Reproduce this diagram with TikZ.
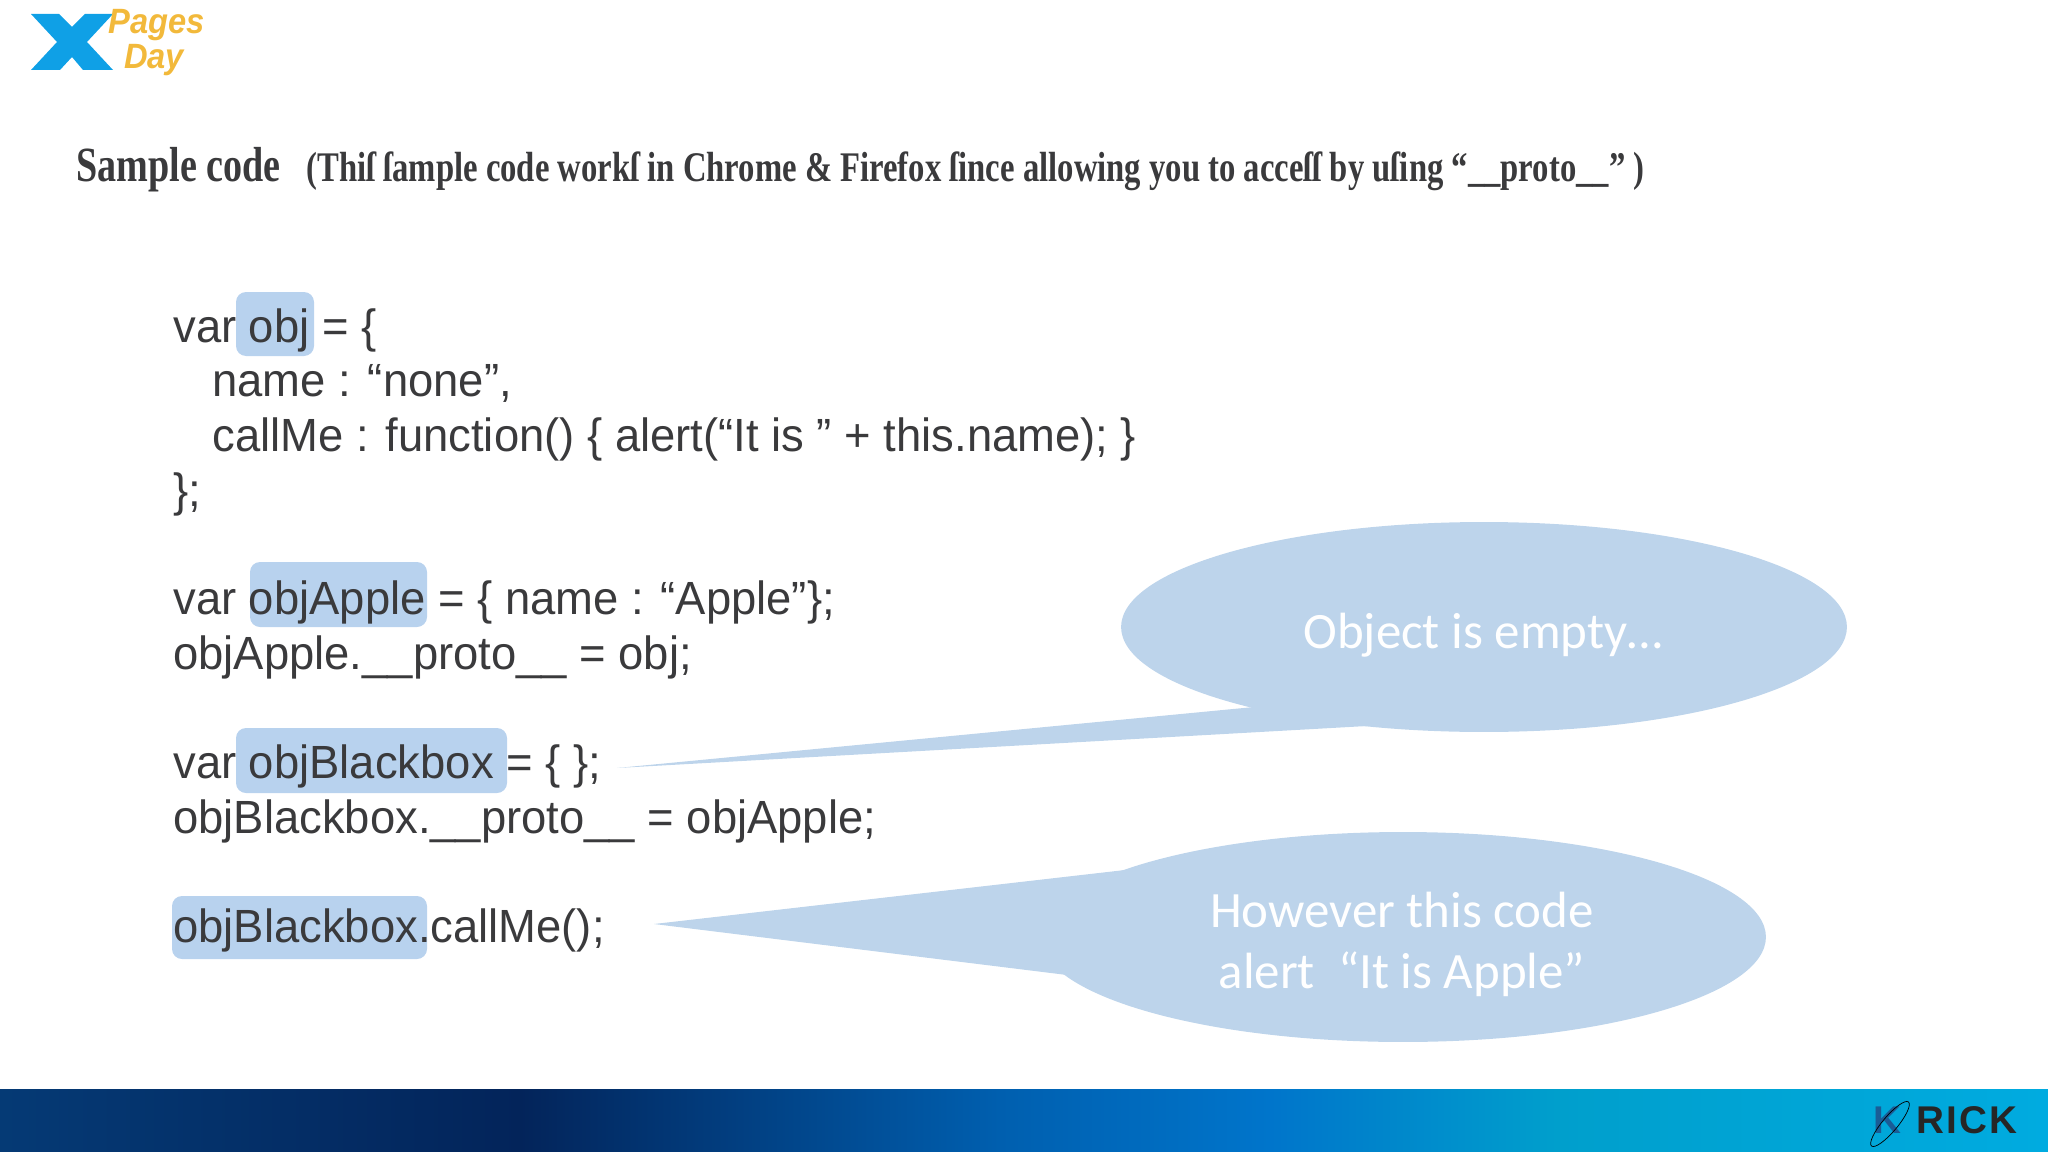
\documentclass[tikz,border=0pt]{standalone}
\usepackage{fontspec}
\usetikzlibrary{shapes.geometric}
\setmainfont[FakeStretch=0.975]{Liberation Sans}
\newfontfamily\bubblefont{Carlito}
\newfontfamily\titlefont[FakeStretch=0.775]{Liberation Serif}
\newfontfamily\logofont[FakeStretch=0.93]{Liberation Sans}
\newfontfamily\brandfont[LetterSpace=6]{Liberation Sans}
\definecolor{bubbleblue}{HTML}{BDD4EB}
\definecolor{markblue}{HTML}{B8D2EE}
\definecolor{codegray}{HTML}{3A3A3C}
\definecolor{logoblue}{HTML}{0FA0E6}
\definecolor{logogold}{HTML}{F2B93B}
\definecolor{brandblue}{HTML}{1A5C96}
\definecolor{bandA}{HTML}{053A75}
\definecolor{bandB}{HTML}{03245A}
\definecolor{bandC}{HTML}{005FAF}
\definecolor{bandD}{HTML}{0075CB}
\definecolor{bandE}{HTML}{009FCC}
\definecolor{bandF}{HTML}{00ABE0}
\pgfdeclarehorizontalshading{bandshade}{100bp}{
  color(0bp)=(bandA); color(25bp)=(bandA); color(37.7bp)=(bandB); color(49.4bp)=(bandC);
  color(56bp)=(bandD); color(63bp)=(bandE); color(75bp)=(bandF); color(100bp)=(bandF)}
\tikzset{
  codeline/.style={anchor=base west, inner sep=0pt, text=codegray, font=\fontsize{26.5}{26.5}\selectfont},
  titleline/.style={anchor=base west, inner sep=0pt, text=codegray, font=\titlefont\bfseries\fontsize{24}{24}\selectfont},
  markbox/.style={fill=markblue, rounded corners=0.2cm},
  bubble/.style={ellipse, fill=bubbleblue, inner sep=0pt, minimum width=14.52cm, minimum height=4.2cm},
  bubbletext/.style={text=white, align=center, font=\bubblefont\fontsize{29}{34.7}\selectfont},
  logotext/.style={text=logogold, inner sep=0pt, font=\logofont\bfseries\itshape\fontsize{20}{20}\selectfont},
}
\begin{document}
\begin{tikzpicture}[x=0.02cm,y=-0.02cm]
\useasboundingbox (0,0) rectangle (2048,1152);
% Bottom band
\shade[shading=bandshade] (0,1089) rectangle (2048,1152);
% Logo
\fill[logoblue] (31,14) -- (59,14) -- (72,27) -- (85,14) -- (113,14) -- (87,42) -- (113,70)
  -- (83,70) -- (72,57) -- (60,70) -- (31,70) -- (57,42) -- cycle;
\node[logotext] (pagesLabel) at (157,25) {Pages};
\node[logotext] (dayLabel) at (154,60) {Day};
% Highlights
\fill[markbox] (236,292) rectangle (314,356);
\fill[markbox] (250,562) rectangle (427,627);
\fill[markbox] (236,728) rectangle (507,793);
\fill[markbox] (172,896) rectangle (427,959);
% Code
\node[codeline] (objLine) at (173,342) {var obj = \{};
\node[codeline] (nameLine) at (212,396) {name : “none”,};
\node[codeline] (callLine) at (212,451) {callMe : function() \{ alert(“It is ” + this.name); \}};
\node[codeline] (closeLine) at (173,506) {\};};
\node[codeline] (appleLine) at (173,614) {var objApple = \{ name : “Apple”\};};
\node[codeline] (protoApple) at (173,669) {objApple.\_\_proto\_\_ = obj;};
\node[codeline] (blackLine) at (173,778) {var objBlackbox = \{ \};};
\node[codeline] (protoBlack) at (173,833) {objBlackbox.\_\_proto\_\_ = objApple;};
\node[codeline] (callBlack) at (173,942) {objBlackbox.callMe();};
% Title
\node[titleline] (title) at (76,182) {\fontsize{28}{28}\selectfont Sample code};
\node[titleline] (subtitle) at (306,182) {(Thiſ ſample code workſ in Chrome \& Firefox ſince allowing you to acceſſ by uſing “\_\_proto\_\_” )};
% Bubbles
\node[bubble] (emptyBubble) at (1484,627) {};
\node[bubble] (alertBubble) at (1403,937) {};
\coordinate (emptyTip) at (617,768);
\coordinate (alertTip) at (654,924);
\fill[bubbleblue] (emptyTip) -- (1254,707) -- (1367,726) -- cycle;
\fill[bubbleblue] (alertTip) -- (1125,870) -- (1067,975) -- cycle;
\node[bubbletext] (emptyText) at (1483,635) {Object is empty…};
\node[bubbletext] (alertText) at (1402,944) {However this code\\alert~~“It is Apple”};
% Brand
\node[anchor=base west, inner sep=0pt, font=\brandfont\bfseries\fontsize{22}{22}\selectfont, text=black!85] (brandLabel) at (1873,1133) {\textcolor{brandblue}{K}\hspace{0.3cm}RICK};
\node[ellipse, draw=black, rotate=50, inner sep=0pt, minimum width=1.15cm, minimum height=0.3cm] (brandRing) at (1890,1124) {};
\end{tikzpicture}
\end{document}
